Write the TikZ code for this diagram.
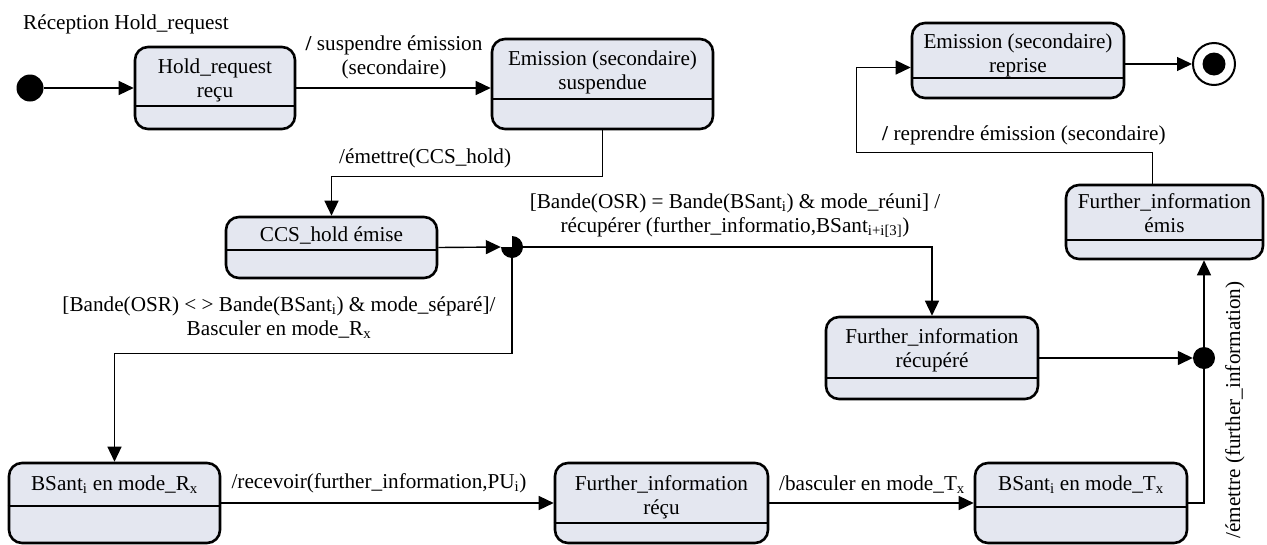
\documentclass[tikz,border=0pt]{standalone}
\usepackage{fontspec}
\setmainfont{Liberation Serif}
\usetikzlibrary{arrows.meta}
\definecolor{statefill}{RGB}{228,231,240}

\begin{document}
\begin{tikzpicture}[x=1pt,y=-1pt,
  every node/.style={font=\fontsize{21.2}{24}\selectfont,inner sep=0pt},
  state/.style={draw,line width=2.6pt,rounded corners=13pt,fill=statefill},
  arr/.style={line width=1.4pt,-{Triangle[length=15pt,width=14pt]}},
  conn/.style={line width=1.4pt},
  sep/.style={line width=1.4pt}]
  \useasboundingbox (0,0) rectangle (1267,544);

  % states
  \node[state,minimum width=160pt,minimum height=82pt] (hold) at (215,88) {};
  \node[state,minimum width=221pt,minimum height=90pt] (susp) at (602.5,84) {};
  \node[state,minimum width=211pt,minimum height=61pt] (ccs) at (331.5,247.5) {};
  \node[state,minimum width=212pt,minimum height=82pt] (recup) at (932,358) {};
  \node[state,minimum width=211pt,minimum height=80pt] (rx) at (114.5,503) {};
  \node[state,minimum width=213pt,minimum height=80pt] (recu) at (661.5,503) {};
  \node[state,minimum width=212pt,minimum height=80pt] (tx) at (1081,503) {};
  \node[state,minimum width=197pt,minimum height=74pt] (emis) at (1164.5,222) {};
  \node[state,minimum width=212pt,minimum height=75pt] (repr) at (1018,60.5) {};

  \draw[sep] (hold.west |- 0,106) -- (hold.east |- 0,106);
  \draw[sep] (susp.west |- 0,99) -- (susp.east |- 0,99);
  \draw[sep] (ccs.west |- 0,250) -- (ccs.east |- 0,250);
  \draw[sep] (recup.west |- 0,378) -- (recup.east |- 0,378);
  \draw[sep] (rx.west |- 0,506) -- (rx.east |- 0,506);
  \draw[sep] (recu.west |- 0,523) -- (recu.east |- 0,523);
  \draw[sep] (tx.west |- 0,507) -- (tx.east |- 0,507);
  \draw[sep] (emis.west |- 0,240) -- (emis.east |- 0,240);
  \draw[sep] (repr.west |- 0,78) -- (repr.east |- 0,78);

  \node[anchor=base,align=center] (hold-t) at (215,97) {Hold\_request\\reçu};
  \node[anchor=base,align=center] (susp-t) at (602.5,89) {Emission (secondaire)\\suspendue};
  \node[anchor=base] (ccs-t) at (331.5,241) {CCS\_hold émise};
  \node[anchor=base,align=center] (recup-t) at (932,367) {Further\_information\\récupéré};
  \node[anchor=base] (rx-t) at (114.5,490) {BSant\textsubscript{i} en mode\_R\textsubscript{x}};
  \node[anchor=base,align=center] (recu-t) at (661.5,514) {Further\_information\\réçu};
  \node[anchor=base] (tx-t) at (1081,490) {BSant\textsubscript{i} en mode\_T\textsubscript{x}};
  \node[anchor=base,align=center] (emis-t) at (1164.5,232) {Further\_information\\émis};
  \node[anchor=base,align=center] (repr-t) at (1018,72) {Emission (secondaire)\\reprise};

  % pseudo states
  \node[circle,fill,minimum size=27pt] (init) at (30,88) {};
  \node[circle,minimum size=22pt] (choice) at (512,247) {};
  \node[circle,fill,minimum size=22pt] (fork) at (1204,358) {};
  \node[circle,draw,line width=2pt,minimum size=42pt] (final) at (1214,64) {};
  \fill (final) circle (11.5);

  % transitions
  \draw[arr] (init) -- (hold.west);
  \draw[arr] (hold.east) -- (susp.west |- hold.east);
  \draw[arr] (susp.south) -- ++(0,46) -| (ccs.north);
  \draw[arr] (ccs.east) -- (choice.west);
  \draw[arr] (choice.east) -| (recup.north);
  \draw[arr] (choice.south) -- ++(0,95) -| (rx.north);
  \draw[arr] (recup.east) -- (fork.west);
  \draw[arr] (rx.east) -- (recu.west);
  \draw[arr] (recu.east) -- (tx.west);
  \draw[conn] (tx.east) -| (fork.south);
  \draw[arr] (fork.north) -- (fork.north |- emis.south);
  \draw[arr] ([xshift=-12pt]emis.north) -- ++(0,-31) -- ++(-296,0) |- ([yshift=-7pt]repr.west);
  \draw[arr] (repr.east |- final) -- (final.west);
  \fill (choice.center) -- ++(270:11) arc[start angle=270,end angle=540,radius=11] -- cycle;

  % labels
  \node[anchor=base west] (reception) at (23,29) {Réception Hold\_request};
  \node[anchor=base,align=center] (lsusp) at (394,74) {\textbf{/} suspendre émission\\(secondaire)};
  \node[anchor=base west] (lemet) at (339,163) {/émettre(CCS\_hold)};
  \node[anchor=base,align=center] (lreuni) at (735,232) {[Bande(OSR) = Bande(BSant\textsubscript{i}) \& mode\_réuni] /\\récupérer (further\_informatio,BSant\textsubscript{i+i[3]})};
  \node[anchor=base,align=center] (lsepare) at (279,335) {[Bande(OSR) < > Bande(BSant\textsubscript{i}) \& mode\_séparé]/\\Basculer en mode\_R\textsubscript{x}};
  \node[anchor=base] (lrecev) at (379,488) {/recevoir(further\_information,PU\textsubscript{i})};
  \node[anchor=base] (lbasc) at (872,490) {/basculer en mode\_T\textsubscript{x}};
  \node[anchor=base west] (lrepr) at (882,140) {\textbf{/} reprendre émission (secondaire)};
  \node[rotate=90] (lemis) at (1235,410) {/émettre (further\_information)};
\end{tikzpicture}
\end{document}
